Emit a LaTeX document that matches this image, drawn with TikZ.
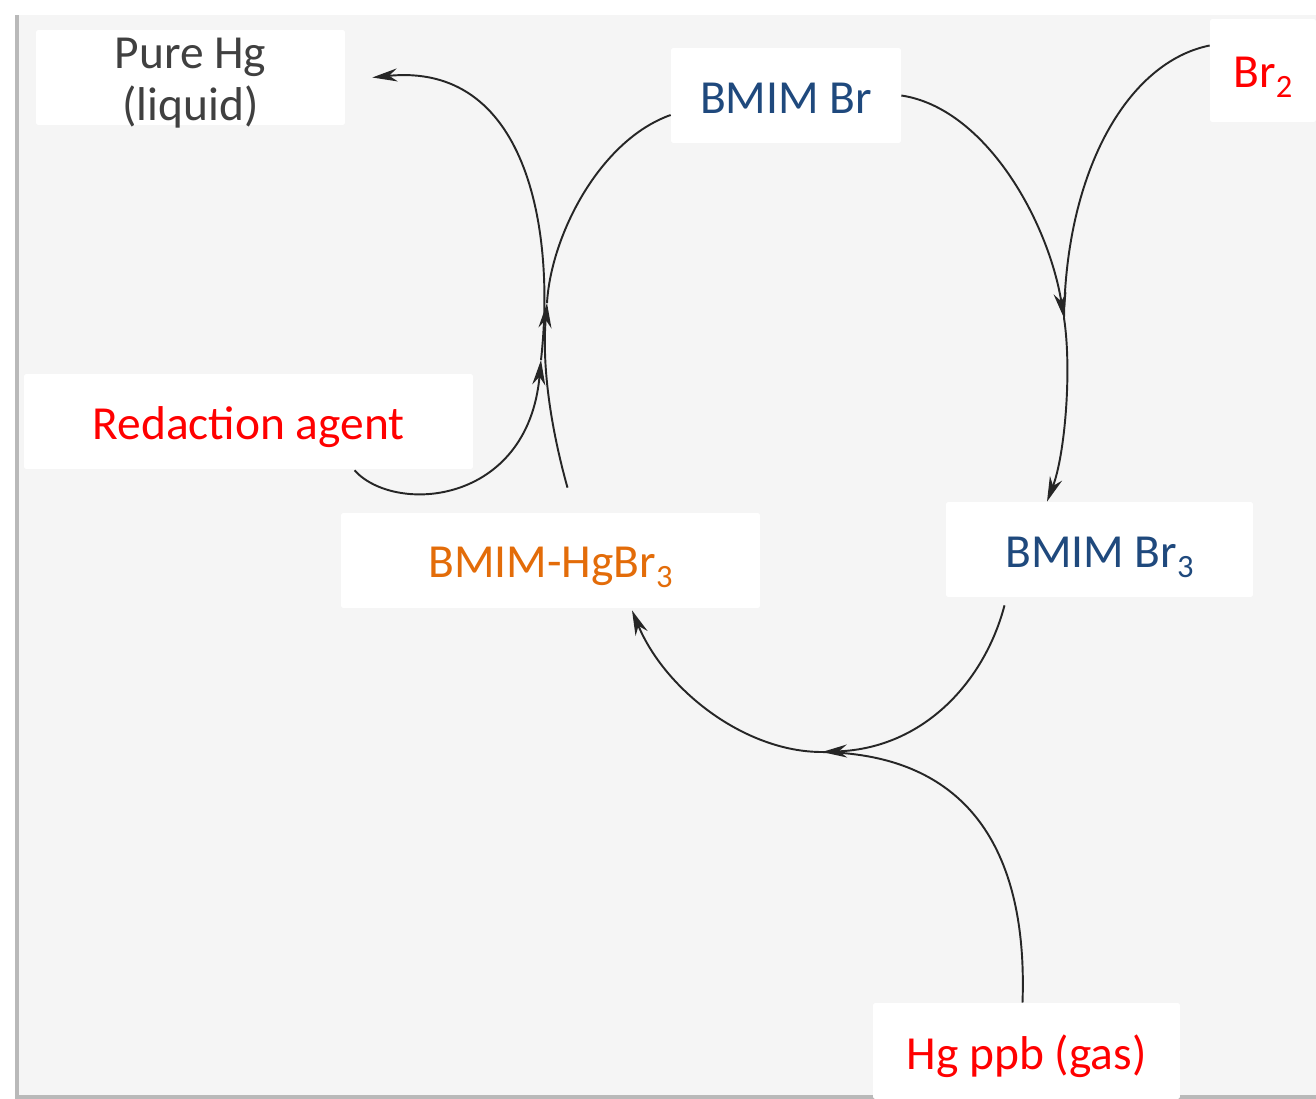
\documentclass[tikz,border=0pt]{standalone}
\usepackage{fontspec}
\setmainfont{Carlito}
\usetikzlibrary{arrows.meta,calc}
\definecolor{bg}{HTML}{F5F5F5}
\definecolor{txtblue}{HTML}{1F497D}
\definecolor{txtorange}{HTML}{E36C09}
\definecolor{txtgray}{HTML}{404040}
\definecolor{txtred}{HTML}{FF0000}
\definecolor{linec}{HTML}{262626}
\newcommand{\mysub}[1]{\raisebox{-5.5pt}{\fontsize{18.5}{18.5}\selectfont #1}}
\begin{document}
\begin{tikzpicture}[x=0.02cm,y=-0.02cm,
  box/.style={fill=white, rounded corners=1pt, inner sep=0pt, align=center,
    font=\fontsize{27}{30}\selectfont, text height=21.5pt, text depth=0.5pt},
  conn/.style={draw=linec, line width=1.1pt},
  tip/.style={-{Stealth[length=0.5cm,width=0.26cm]}}]
\path[use as bounding box, fill=white] (0,0) rectangle (1316,1099);
\fill[bg] (18,15) rectangle (1316,1097);
\draw[gray!55, line width=2pt] (17,15) -- (17,1097) -- (1316,1097);

\path
  (190.5,77.5)  node[box, minimum width=6.18cm, minimum height=1.9cm, text=txtgray,
                     text height=50pt, text depth=0.7pt] (pure) {Pure Hg\\(liquid)}
  (786,95.5)    node[box, minimum width=4.6cm,  minimum height=1.9cm, text=txtblue] (bmimbr) {BMIM Br}
  (1263,70.5)   node[box, minimum width=2.12cm, minimum height=2.06cm, text=txtred,
                     text height=20pt] (br2) {Br\mysub{2}}
  (248.5,421.5) node[box, minimum width=8.98cm, minimum height=1.9cm, text=txtred] (red) {Redaction agent}
  (550.5,560.5) node[box, minimum width=8.38cm, minimum height=1.9cm, text=txtorange,
                     text height=20pt] (hgbr3) {BMIM-HgBr\mysub{3}}
  (1099.5,549.5) node[box, minimum width=6.14cm, minimum height=1.9cm, text=txtblue] (br3) {BMIM Br\mysub{3}}
  (1026.5,1051) node[box, minimum width=6.14cm, minimum height=1.92cm, text=txtred] (hgppb) {Hg ppb (gas)};

\coordinate (j1) at (1064,318);
\coordinate (j2) at (822,752);
\coordinate (j3) at (541,360);
\coordinate (j4) at (547,303);
\coordinate (t1) at ($(br3.north)+(-52.5,0)$);
\coordinate (s2) at ($(br2.west)+(0,-25)$);
\coordinate (s3) at ($(br3.south)+(-95,8)$);
\coordinate (t3) at ($(hgbr3.south)+(81.5,2)$);
\coordinate (s4) at ($(hgppb.north)+(-4,0)$);
\coordinate (s5) at ($(red.south)+(106,1)$);
\coordinate (t5) at ($(pure.east)+(27,0)$);
\coordinate (s6) at ($(hgbr3.north)+(17,-25)$);
\coordinate (t6) at ($(bmimbr.west)+(0,19.5)$);

\draw[conn,tip] (bmimbr.east) .. controls (985,108) and (1048,220) .. (j1);
\draw[conn,tip] (j1) .. controls (1072,370) and (1065,455) .. (t1);
\draw[conn] (s2) .. controls (1128,62) and (1066,170) .. (j1);
\draw[conn,tip] (s3) .. controls (985,680) and (925,748) .. (j2);
\draw[conn,tip] (j2) .. controls (745,752) and (665,690) .. (t3);
\draw[conn] (s4) .. controls (1027,880) and (990,755) .. (j2);
\draw[conn,tip] (s5) .. controls (395,515) and (528,505) .. (j3);
\draw[conn,tip] (j3) .. controls (556,225) and (525,62) .. (t5);
\draw[conn,tip] (s6) .. controls (550,425) and (542,365) .. (j4);
\draw[conn] (j4) .. controls (551,235) and (600,140) .. (t6);
\end{tikzpicture}
\end{document}
